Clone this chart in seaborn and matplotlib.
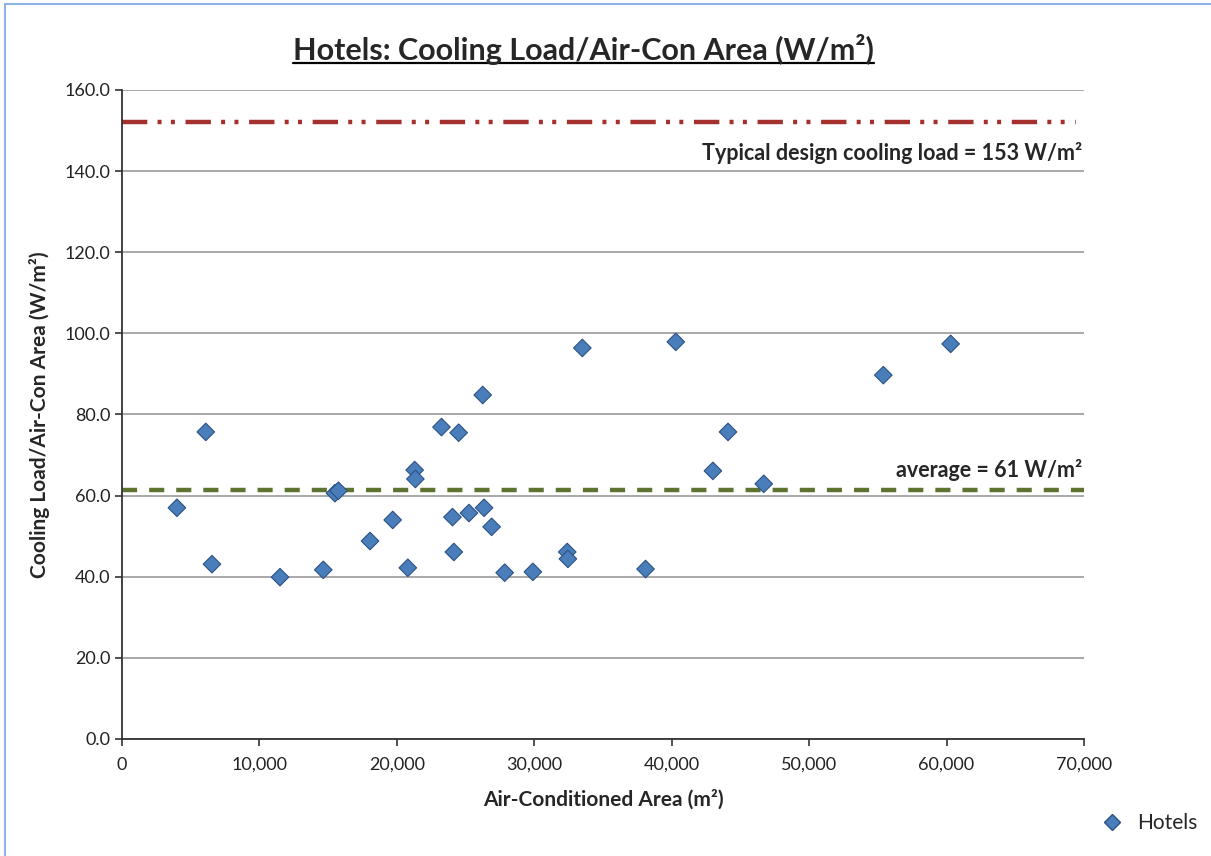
import numpy as np
import pandas as pd
import matplotlib
matplotlib.use('Agg')
import matplotlib.pyplot as plt
import matplotlib.ticker as mticker
from matplotlib.lines import Line2D
from matplotlib.patches import Rectangle
import seaborn as sns

# ========== data ==========
area_m2 = [4000, 6100, 6550, 11500, 14650, 15500, 15750, 18050, 19700, 20800,
           21300, 21350, 23250, 24050, 24150, 24500, 25250, 26250, 26350, 26900,
           27850, 29900, 32400, 32450, 33500, 38100, 40300, 43000, 44100, 46700,
           55400, 60300]
load_w_m2 = [57.0, 75.7, 43.1, 39.9, 41.7, 60.6, 61.2, 48.8, 54.0, 42.2,
             66.3, 64.1, 76.9, 54.7, 46.1, 75.5, 55.7, 84.8, 57.0, 52.3,
             41.0, 41.2, 46.1, 44.4, 96.4, 41.9, 97.9, 66.1, 75.7, 62.9,
             89.7, 97.4]
design_load = 152
average_load = 61.4
design_label = 'Typical design cooling load = 153 W/m\u00b2'
average_label = 'average = 61 W/m\u00b2'

df = pd.DataFrame({'area': area_m2, 'load': load_w_m2, 'type': 'Hotels'})

# ========== style ==========
sns.set_style('white')
plt.rcParams['font.family'] = ['Lato', 'DejaVu Sans']

fig = plt.figure(figsize=(12.11, 8.56), dpi=100)
ax = fig.add_axes([0.1007, 0.1367, 0.7944, 0.7582])

# reference lines
ax.plot([0, 69400], [design_load, design_load], color='#A5312E', lw=3.2,
        dashes=(5.7, 2.3, 0.9, 2.1, 0.9, 2.4), solid_capstyle='butt', zorder=2)
ax.plot([0, 70000], [average_load, average_load], color='#5F7330', lw=3.2,
        dashes=(3.4, 2.7), zorder=2)

sns.scatterplot(data=df, x='area', y='load', hue='type', palette=['#4A7EBB'],
                marker='D', s=80, edgecolor='#2C5283', linewidth=0.8,
                ax=ax, zorder=3, legend=False)

ax.set_xlim(0, 70000)
ax.set_ylim(0, 160)
ax.set_xticks(np.arange(0, 70001, 10000))
ax.set_yticks(np.arange(0, 161, 20))
ax.xaxis.set_major_formatter(mticker.FuncFormatter(lambda v, p: f'{int(v):,}'))
ax.yaxis.set_major_formatter(mticker.FormatStrFormatter('%.1f'))
ax.yaxis.grid(True, color='#9A9A9A', lw=1.2)
ax.set_axisbelow(True)
for s in ['top', 'right']:
    ax.spines[s].set_visible(False)
for s in ['left', 'bottom']:
    ax.spines[s].set_color('#333333')
    ax.spines[s].set_linewidth(1.3)
ax.tick_params(axis='both', direction='out', length=5, width=1.2,
               labelsize=13, colors='#333333', labelcolor='#222222', bottom=True, left=True)
ax.tick_params(axis='x', pad=8)

ax.set_xlabel('Air-Conditioned Area (m\u00b2)', fontsize=15, fontweight='bold', labelpad=12)
ax.set_ylabel('Cooling Load/Air-Con Area (W/m\u00b2)', fontsize=15, fontweight='bold', labelpad=10)

# labels on the reference lines
ax.text(69900, 144.5, design_label, ha='right', va='center', fontsize=15.5, fontweight='bold')
ax.text(69900, 66.3, average_label, ha='right', va='center', fontsize=15.5, fontweight='bold')

# title with underline
title = fig.text(0.482, 0.942, 'Hotels: Cooling Load/Air-Con Area (W/m\u00b2)',
                 ha='center', va='center', fontsize=22, fontweight='bold')
fig.canvas.draw()
bb = title.get_window_extent().transformed(fig.transFigure.inverted())
fig.add_artist(Line2D([bb.x0, bb.x1], [bb.y0 + 0.002, bb.y0 + 0.002],
                      transform=fig.transFigure, color='black', lw=1.6))

# legend
handle = Line2D([], [], marker='D', ls='none', color='#4A7EBB',
                markeredgecolor='#2C5283', markersize=8)
fig.legend([handle], ['Hotels'], loc='center', bbox_to_anchor=(0.945, 0.038),
           frameon=False, fontsize=15, handletextpad=0.2)

# thin blue frame of the chart area
fig.add_artist(Rectangle((0.004, -0.01), 1.0, 1.005, transform=fig.transFigure,
                         fill=False, edgecolor='#8DB4E2', lw=1.5))

fig.savefig('out.png', dpi=100)
